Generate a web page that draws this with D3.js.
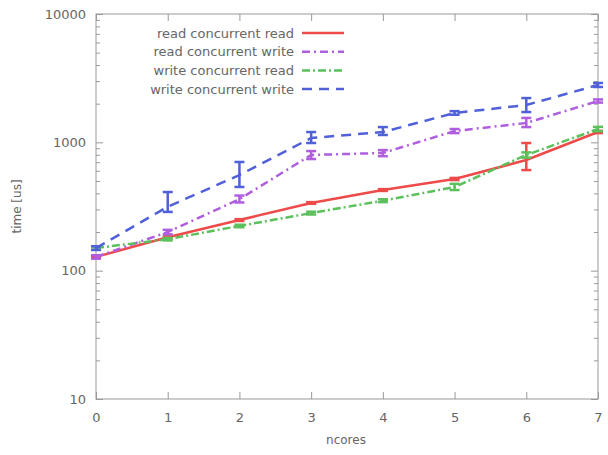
<!DOCTYPE html>
<html>
<head>
<meta charset="utf-8">
<script src="https://cdn.jsdelivr.net/npm/d3@7"></script>
<style>
body { margin: 0; background: #fff; }
text { font-family: "DejaVu Sans", sans-serif; fill: #666; }
</style>
</head>
<body>
<svg id="chart" width="608" height="455"></svg>
<script>
let ncores = [0, 1, 2, 3, 4, 5, 6, 7]
let seriesNames = ['read concurrent read', 'read concurrent write', 'write concurrent read', 'write concurrent write']

// mean time per series, and error bar low / high
let readRead = [128, 182, 248, 337, 425, 518, 728, 1204]
let readReadLo = [126, 179, 244, 332, 418, 508, 608, 1180]
let readReadHi = [130, 185, 252, 342, 432, 528, 988, 1230]

let readWrite = [128, 200, 361, 797, 826, 1224, 1415, 2099]
let readWriteLo = [124, 192, 340, 741, 780, 1180, 1315, 2040]
let readWriteHi = [132, 208, 385, 855, 870, 1270, 1549, 2160]

let writeRead = [150, 176, 223, 281, 351, 449, 797, 1270]
let writeReadLo = [146, 172, 218, 274, 342, 425, 760, 1220]
let writeReadHi = [154, 180, 228, 288, 360, 475, 835, 1320]

let writeWrite = [150, 315, 556, 1081, 1203, 1693, 1953, 2798]
let writeWriteLo = [145, 287, 449, 988, 1141, 1640, 1722, 2700]
let writeWriteHi = [155, 410, 703, 1203, 1315, 1750, 2213, 2900]

let yTicks = [10, 100, 1000, 10000]

let series = [
    {name: seriesNames[0], v: readRead, lo: readReadLo, hi: readReadHi, color: '#ee4a4a', dash: null},
    {name: seriesNames[1], v: readWrite, lo: readWriteLo, hi: readWriteHi, color: '#b05ee0', dash: '8,4,2,4'},
    {name: seriesNames[2], v: writeRead, lo: writeReadLo, hi: writeReadHi, color: '#5cc05c', dash: '8,3,2,3'},
    {name: seriesNames[3], v: writeWrite, lo: writeWriteLo, hi: writeWriteHi, color: '#5060d8', dash: '10,7'}
]

let svg = d3.select('#chart')
let plotL = 96, plotR = 598, plotT = 14, plotB = 399

let x = d3.scaleLinear().domain([0, 7]).range([plotL, plotR])
let y = d3.scaleLog().domain([10, 10000]).range([plotB, plotT])

// frame
svg.append('rect')
   .attr('x', plotL).attr('y', plotT)
   .attr('width', plotR-plotL).attr('height', plotB-plotT)
   .attr('fill', 'none').attr('stroke', '#999').attr('stroke-width', 1)

// y ticks, major and minor, inward on both sides
let minor = []
for (let d = 10; d < 10000; d *= 10) {
    for (let k = 2; k <= 9; k++) minor.push(d*k)
}
let yAxisL = d3.axisLeft(y).tickValues(yTicks).tickFormat(d3.format('d')).tickSize(-7).tickPadding(10)
let gL = svg.append('g').attr('transform', 'translate(' + plotL + ',0)').call(yAxisL)
gL.selectAll('text').style('font-size', '13px')
svg.append('g').attr('transform', 'translate(' + plotL + ',0)')
   .call(d3.axisLeft(y).tickValues(minor).tickFormat('').tickSize(-4))
svg.append('g').attr('transform', 'translate(' + plotR + ',0)')
   .call(d3.axisRight(y).tickValues(yTicks).tickFormat('').tickSize(-7))
svg.append('g').attr('transform', 'translate(' + plotR + ',0)')
   .call(d3.axisRight(y).tickValues(minor).tickFormat('').tickSize(-4))

// x ticks
let gB = svg.append('g').attr('transform', 'translate(0,' + plotB + ')')
   .call(d3.axisBottom(x).tickValues(ncores).tickFormat(d3.format('d')).tickSize(-7).tickPadding(14))
gB.selectAll('text').style('font-size', '13px')
svg.append('g').attr('transform', 'translate(0,' + plotT + ')')
   .call(d3.axisTop(x).tickValues(ncores).tickFormat('').tickSize(-7))

svg.selectAll('.domain').remove()
svg.selectAll('.tick line').attr('stroke', '#999')

// axis titles
svg.append('text').attr('x', 346).attr('y', 444).attr('text-anchor', 'middle')
   .style('font-size', '12px').text('ncores')
svg.append('text').attr('transform', 'translate(21,' + ((plotT+plotB)/2) + ') rotate(-90)')
   .attr('text-anchor', 'middle').style('font-size', '12px').text('time [us]')

// series
let line = d3.line().x((d)=>x(d[0])).y((d)=>y(d[1]))
series.forEach((s) => {
    let pts = ncores.map((c, i) => [c, s.v[i]])
    svg.append('path')
       .attr('d', line(pts))
       .attr('fill', 'none')
       .attr('stroke', s.color)
       .attr('stroke-width', 2.5)
       .attr('stroke-dasharray', s.dash)

    let eb = svg.append('g').attr('stroke', s.color).attr('stroke-width', 2.5)
    ncores.forEach((c, i) => {
        let cx = x(c)
        eb.append('line').attr('x1', cx).attr('x2', cx).attr('y1', y(s.lo[i])).attr('y2', y(s.hi[i]))
        eb.append('line').attr('x1', cx-5).attr('x2', cx+5).attr('y1', y(s.lo[i])).attr('y2', y(s.lo[i]))
        eb.append('line').attr('x1', cx-5).attr('x2', cx+5).attr('y1', y(s.hi[i])).attr('y2', y(s.hi[i]))
    })
})

// legend
let legend = svg.append('g')
legend.selectAll('text')
      .data(series)
      .enter()
      .append('text')
      .attr('x', 294)
      .attr('y', (d, i) => 33 + i*18.7 + 4.5)
      .attr('text-anchor', 'end')
      .style('font-size', '13px')
      .text((d) => d.name)
legend.selectAll('line')
      .data(series)
      .enter()
      .append('line')
      .attr('x1', 302).attr('x2', 344)
      .attr('y1', (d, i) => 33 + i*18.7)
      .attr('y2', (d, i) => 33 + i*18.7)
      .attr('stroke', (d) => d.color)
      .attr('stroke-width', 2.5)
      .attr('stroke-dasharray', (d) => d.dash)
</script>
</body>
</html>
